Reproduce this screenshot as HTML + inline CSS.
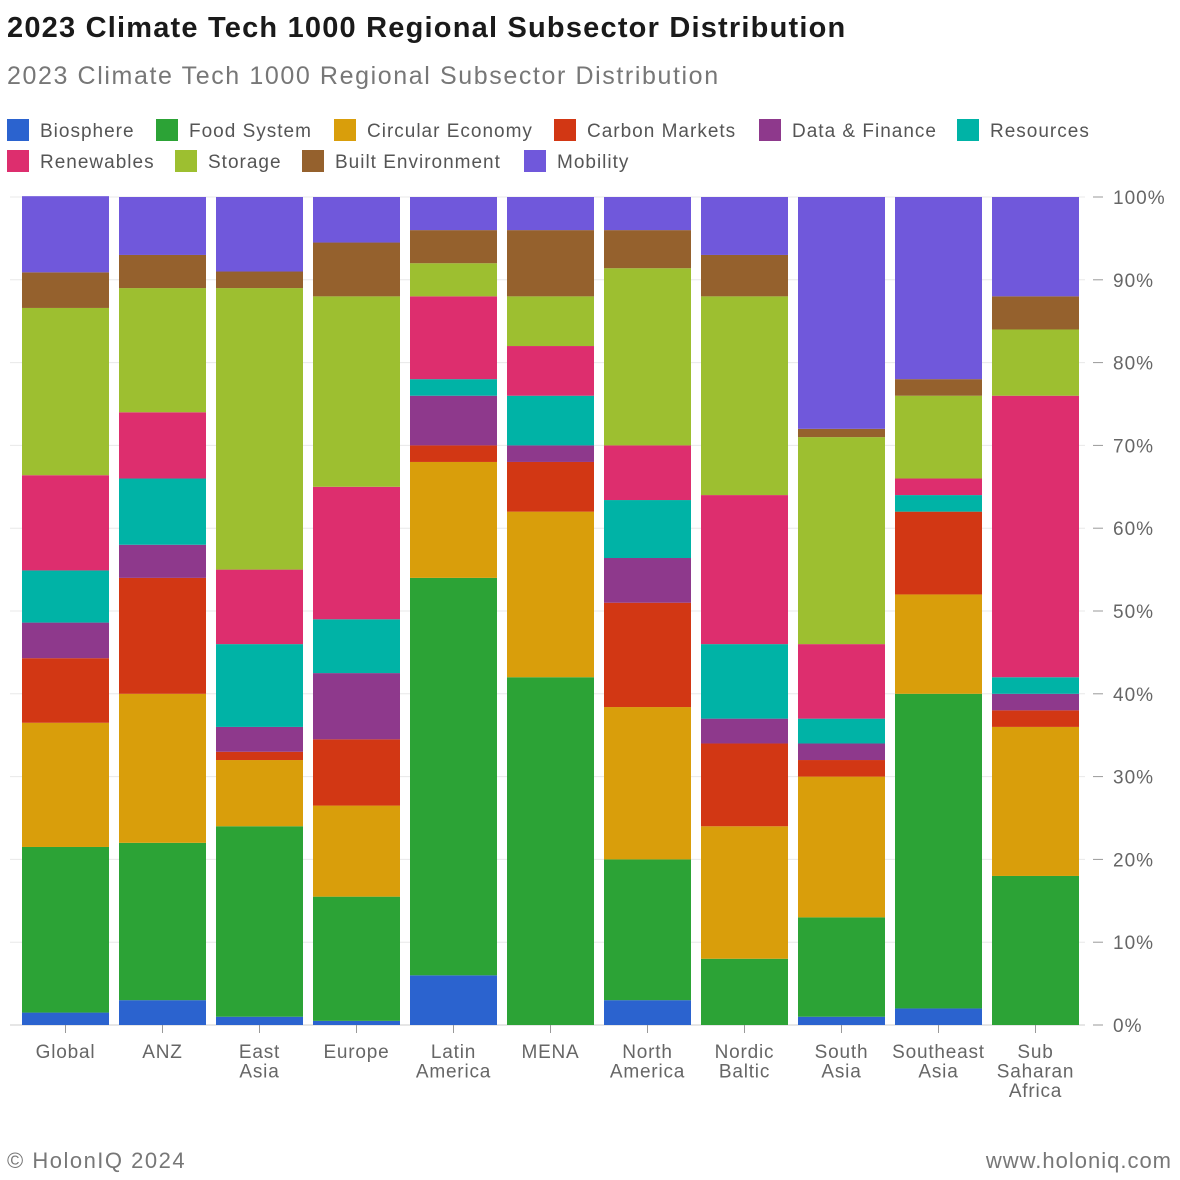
<!DOCTYPE html>
<html><head><meta charset="utf-8"><style>
body{margin:0;background:#fff;font-family:"Liberation Sans",sans-serif;}
svg{display:block}
</style></head><body>
<svg id="c" width="1180" height="1180" xmlns="http://www.w3.org/2000/svg">
<text x="7" y="37" font-size="29" font-weight="bold" fill="#1a1a1a" letter-spacing="1.2">2023 Climate Tech 1000 Regional Subsector Distribution</text>
<text x="7" y="84" font-size="25" fill="#777" letter-spacing="1.6">2023 Climate Tech 1000 Regional Subsector Distribution</text>
<g id="legend"></g>
<g id="grid"></g>
<g id="bars"></g>
<g id="axis"></g>
<g id="xaxis"></g>
<text x="7" y="1168" font-size="22" fill="#777" letter-spacing="1.5">© HolonIQ 2024</text>
<text x="1172" y="1168" font-size="22" fill="#777" letter-spacing="1" text-anchor="end">www.holoniq.com</text>
</svg>
<script>
const categories=[["Global"],["ANZ"],["East","Asia"],["Europe"],["Latin","America"],["MENA"],["North","America"],["Nordic","Baltic"],["South","Asia"],["Southeast","Asia"],["Sub","Saharan","Africa"]];
const seriesNames=["Biosphere","Food System","Circular Economy","Carbon Markets","Data & Finance","Resources","Renewables","Storage","Built Environment","Mobility"];
const seriesColors=["#2b63cf","#2ca336","#d99e0b","#d23714","#8e398c","#00b3a6","#dd2e6e","#9dbf30","#95612d","#7058db"];
const biosphere=[1.5,3,1,0.5,6,0,3,0,1,2,0];
const foodSystem=[20,19,23,15,48,42,17,8,12,38,18];
const circularEconomy=[15,18,8,11,14,20,18.4,16,17,12,18];
const carbonMarkets=[7.8,14,1,8,2,6,12.6,10,2,10,2];
const dataFinance=[4.3,4,3,8,6,2,5.4,3,2,0,2];
const resources=[6.3,8,10,6.5,2,6,7,9,3,2,2];
const renewables=[11.5,8,9,16,10,6,6.6,18,9,2,34];
const storage=[20.2,15,34,23,4,6,21.4,24,25,10,8];
const builtEnvironment=[4.3,4,2,6.5,4,8,4.6,5,1,2,4];
const mobility=[9.2,7,9,5.5,4,4,4,7,28,22,12];
const yTicks=[0,10,20,30,40,50,60,70,80,90,100];
const series=[biosphere,foodSystem,circularEconomy,carbonMarkets,dataFinance,resources,renewables,storage,builtEnvironment,mobility];
const NS="http://www.w3.org/2000/svg";
const y0=1025,y1=197,xL=10,xR=1085,step=97,bw=87,firstX=22;
const yS=v=>y0-(v/100)*(y0-y1);
const xS=i=>firstX+i*step;
function mk(t,a,p){const e=document.createElementNS(NS,t);for(const k in a)e.setAttribute(k,a[k]);p.appendChild(e);return e;}
const lg=document.getElementById('legend');
const lpos=[[7,130],[156,130],[334,130],[554,130],[759,130],[957,130],[7,161],[175,161],[302,161],[524,161]];
seriesNames.forEach((n,i)=>{
  const g=mk('g',{},lg);
  
  
  mk('rect',{x:lpos[i][0],y:lpos[i][1]-11,width:22,height:22,fill:seriesColors[i]},g);
  const t=mk('text',{x:lpos[i][0]+33,y:lpos[i][1]+7,'font-size':19,fill:'#555','letter-spacing':1},g);t.textContent=n;
});
const gr=document.getElementById('grid'),ax=document.getElementById('axis');
yTicks.forEach(v=>{
  const y=yS(v);
  const l=mk('line',{x1:xL,x2:xR,y1:y,y2:y,stroke:v===0?'#ccc':'#e8e8e8','stroke-width':1},gr);
  
  
  mk('line',{x1:xR+8,x2:xR+18,y1:y,y2:y,stroke:'#999'},ax);
  const t=mk('text',{x:xR+28,y:y+7,'font-size':19,fill:'#666','letter-spacing':1},ax);
  
  
  t.textContent=v+'%';
});
const bg=document.getElementById('bars'),xa=document.getElementById('xaxis');
categories.forEach((c,i)=>{
  let cum=0;
  series.forEach((s,j)=>{
    const v=s[i];
    if(v>0){
      const r=mk('rect',{x:xS(i),y:yS(cum+v),width:bw,height:yS(cum)-yS(cum+v),fill:seriesColors[j]},bg);
      
      
    }
    cum+=v;
  });
  const cx=xS(i)+bw/2;
  mk('line',{x1:cx,x2:cx,y1:y0,y2:y0+8,stroke:'#999'},xa);
  const t=mk('text',{x:cx,y:1058,'font-size':19,fill:'#666','text-anchor':'middle','letter-spacing':0.8},xa);
  
  
  c.forEach((ln,k)=>{const ts=mk('tspan',{x:cx,dy:k?19.5:0},t);ts.textContent=ln;});
});
</script>
</body></html>
